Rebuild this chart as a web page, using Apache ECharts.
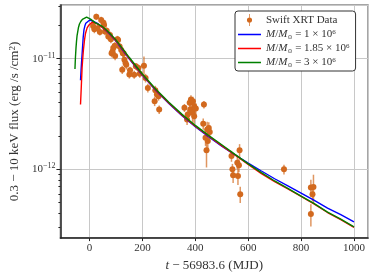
<!DOCTYPE html>
<html><head><meta charset="utf-8">
<script src="https://cdn.jsdelivr.net/npm/echarts@6/dist/echarts.min.js"></script>
<style>html,body{margin:0;padding:0;background:#fff}#c{width:374px;height:277px}</style>
</head><body><div id="c"></div>
<script>
// Swift XRT observations: days since MJD 56983.6, flux (erg/s/cm^2), 1-sigma error
const obsT = [13.5,18.4,25.7,30.6,39.2,44.1,52.7,55.1,58.8,65,71.1,77.2,80.9,83.5,87,89.7,95.6,96.8,105.4,108,114,120,123.8,126,128.7,132,136,139,150.7,153.2,169,175.2,185,190,205.9,212,220.6,246.3,248.8,254.9,261,263.5,359,368.9,371.3,378.7,381,383.6,389.7,391,395.8,395.8,402,430,432.6,438.7,442.4,444.9,447.3,451,454.7,536.8,540.4,543,558.8,561.3,565,567.4,569.9,735.3,837,837,843.1,846.8];
const obsFlux = [1.98e-11,1.85e-11,2.40e-11,1.89e-11,1.74e-11,2.24e-11,2.12e-11,2.02e-11,1.76e-11,1.79e-11,1.59e-11,1.64e-11,1.50e-11,1.12e-11,1.16e-11,1.25e-11,1.31e-11,1.06e-11,1.50e-11,1.48e-11,1.29e-11,1.20e-11,7.96e-12,1.12e-11,1.12e-11,9.8e-12,9.14e-12,8.8e-12,7.22e-12,7.85e-12,7.18e-12,8.53e-12,8.24e-12,7.33e-12,8.65e-12,6.70e-12,5.45e-12,4.13e-12,5.19e-12,4.74e-12,4.58e-12,3.47e-12,3.60e-12,2.82e-12,3.13e-12,3.99e-12,3.47e-12,4.28e-12,3.24e-12,4.13e-12,3.72e-12,3.02e-12,3.55e-12,2.58e-12,3.85e-12,1.93e-12,1.49e-12,2.29e-12,1.80e-12,2.37e-12,2.18e-12,1.32e-12,1.00e-12,8.83e-13,1.15e-12,8.7e-13,1.09e-12,1.49e-12,5.96e-13,1.00e-12,6.84e-13,3.94e-13,5.96e-13,6.94e-13];
const obsErr = [1.5e-12,1.5e-12,1.5e-12,1.5e-12,1.2e-12,1.5e-12,1.5e-12,1.5e-12,1.3e-12,1.3e-12,1.2e-12,1.2e-12,1.2e-12,9e-13,1.0e-12,1.0e-12,1.0e-12,9e-13,1.1e-12,1.1e-12,1.0e-12,1.0e-12,7e-13,9e-13,9e-13,8e-13,8e-13,8e-13,6e-13,6e-13,6e-13,6e-13,6e-13,6e-13,1.8e-12,6e-13,5e-13,4e-13,5e-13,4e-13,4e-13,3e-13,3e-13,3e-13,3e-13,4e-13,4e-13,4e-13,6e-13,4e-13,5e-13,5e-13,4e-13,3e-13,3e-13,3e-13,4.5e-13,4e-13,3e-13,3e-13,3e-13,1.5e-13,1.2e-13,1.3e-13,1.5e-13,1.5e-13,1.5e-13,2e-13,1e-13,1e-13,1.2e-13,9e-14,8e-14,2e-13];

// Model light curves
const blueT = [-34,-32,-30,-27,-24,-21,-17,-14,-8,1,8,16,30,50,75,100,125,150,175,200,250,300,350,400,450,500,550,600,650,700,750,800,850,900,950,1000];
const blueFlux = [6.38e-12,7.8e-12,9.33e-12,1.20e-11,1.55e-11,1.82e-11,2.0e-11,2.09e-11,2.17e-11,2.24e-11,2.22e-11,2.17e-11,2.09e-11,1.905e-11,1.68e-11,1.445e-11,1.20e-11,1.0e-11,8.41e-12,7.08e-12,5.19e-12,3.94e-12,3.05e-12,2.43e-12,1.97e-12,1.62e-12,1.35e-12,1.14e-12,9.66e-13,8.22e-13,7.08e-13,6.10e-13,5.25e-13,4.47e-13,3.89e-13,3.35e-13];
const redT = [-34,-31,-28,-25,-23,-19,-15,-9,-2,4,10,22,30,50,75,100,125,150,175,200,250,300,350,400,450,500,550,600,650,700,750,800,850,900,950,1000];
const redFlux = [3.85e-12,5.62e-12,8.32e-12,1.05e-11,1.20e-11,1.47e-11,1.70e-11,1.90e-11,2.02e-11,2.10e-11,2.14e-11,2.10e-11,2.065e-11,1.91e-11,1.70e-11,1.46e-11,1.215e-11,1.01e-11,8.51e-12,7.16e-12,5.25e-12,3.98e-12,3.09e-12,2.455e-12,2.0e-12,1.64e-12,1.35e-12,1.11e-12,9.14e-13,7.74e-13,6.64e-13,5.69e-13,4.84e-13,4.07e-13,3.51e-13,2.985e-13];
const greenT = [-55,-54,-53,-51,-49,-47,-42,-38,-33,-27,-21,-11,4,22,30,50,75,100,125,150,175,200,250,300,350,400,450,500,550,600,650,700,750,800,850,900,950,1000];
const greenFlux = [8.07e-12,9.3e-12,1.047e-11,1.26e-11,1.45e-11,1.62e-11,1.905e-11,2.06e-11,2.17e-11,2.27e-11,2.33e-11,2.38e-11,2.28e-11,2.11e-11,2.065e-11,1.95e-11,1.72e-11,1.48e-11,1.235e-11,1.03e-11,8.65e-12,7.28e-12,5.33e-12,4.05e-12,3.14e-12,2.495e-12,2.03e-12,1.67e-12,1.365e-12,1.12e-12,9.33e-13,7.85e-13,6.73e-13,5.73e-13,4.90e-13,4.10e-13,3.55e-13,3.02e-13];

const legendLabels = {
  'Swift XRT Data': 'Swift XRT Data',
  'M1': '{i|M}/{i|M}{s|⊙} = 1 × 10{p|6}',
  'M185': '{i|M}/{i|M}{s|⊙} = 1.85 × 10{p|6}',
  'M3': '{i|M}/{i|M}{s|⊙} = 3 × 10{p|6}'
};
const minorTicks = [3e-13,4e-13,5e-13,6e-13,7e-13,8e-13,9e-13,2e-12,3e-12,4e-12,5e-12,6e-12,7e-12,8e-12,9e-12,2e-11,3e-11];

const FONT = 'Liberation Serif';
const DATA_C = '#d2691e';
const LINE_ICON = 'path://M0,0L30,0L30,2L0,2Z';

const chart = echarts.init(document.getElementById('c'), null, {renderer:'canvas'});
const zip = (a,b) => a.map((v,i)=>[v,b[i]]);

chart.setOption({
  animation: false,
  backgroundColor: '#fff',
  grid: {left:53, right:6, top:5, bottom:38, show:true, borderColor:'#888', borderWidth:1.5, backgroundColor:'transparent'},
  xAxis: {
    type:'value', min:-110, max:1053, splitNumber:5,
    axisLine:{show:true, onZero:false, lineStyle:{color:'#222', width:1.5}},
    axisTick:{show:true, length:3, lineStyle:{color:'#222'}},
    axisLabel:{showMinLabel:false, showMaxLabel:false, fontFamily:FONT, fontSize:11, color:'#333', margin:5,
      formatter: v => String(v)},
    splitLine:{show:true, lineStyle:{color:'#c8c8c8', width:1}},
    name:'{i|t} − 56983.6 (MJD)', nameLocation:'middle', nameGap:18,
    nameTextStyle:{fontFamily:FONT, fontSize:13, color:'#333', rich:{i:{fontFamily:FONT, fontSize:13, fontStyle:'italic', color:'#333'}}}
  },
  yAxis: [{
    type:'log', logBase:10, min:2.39e-13, max:3.06e-11,
    axisLine:{show:true, onZero:false, lineStyle:{color:'#222', width:1.5}},
    axisTick:{show:true, length:4, lineStyle:{color:'#222'}},
    axisLabel:{showMinLabel:false, showMaxLabel:false, fontFamily:FONT, fontSize:11, color:'#333', margin:5,
      formatter: v => { const l = Math.log10(v); const r = Math.round(l); return Math.abs(l-r) < 1e-6 ? '10{p|−'+(-r)+'}' : ''; },
      rich:{p:{fontFamily:FONT, fontSize:8, color:'#333', verticalAlign:'top', padding:[0,0,6,0]}}},
    splitLine:{show:true, lineStyle:{color:'#c8c8c8', width:1}},
    name:'{n|0.3 − 10 keV flux (erg /s /cm}{p|2}{n|)}', nameLocation:'middle', nameRotate:90, nameGap:33,
    nameTextStyle:{fontFamily:FONT, fontSize:13, color:'#333', rich:{
      n:{fontFamily:FONT, fontSize:13, color:'#333'},
      p:{fontFamily:FONT, fontSize:9, color:'#333', verticalAlign:'top'}}}
  },{
    type:'log', logBase:10, min:2.39e-13, max:3.06e-11, position:'left',
    axisLine:{show:false, onZero:false}, axisLabel:{show:false}, splitLine:{show:false},
    axisTick:{show:true, length:2, customValues:minorTicks, lineStyle:{color:'#222'}}
  }],
  legend: {
    orient:'vertical', left:235, top:11, width:128,
    backgroundColor:'#fff', borderColor:'#333', borderWidth:1, borderRadius:3,
    padding:[3,6,3,3], itemWidth:23, itemHeight:12, itemGap:3,
    data:[{name:'Swift XRT Data', icon:'path://M2.6,0L3.4,0L3.4,14L2.6,14Z M6,7A3,3,0,1,1,0,7A3,3,0,1,1,6,7Z'},
          {name:'M1', icon:LINE_ICON},{name:'M185', icon:LINE_ICON},{name:'M3', icon:LINE_ICON}],
    formatter: n => legendLabels[n],
    textStyle:{fontFamily:FONT, fontSize:11, color:'#333', rich:{
      i:{fontFamily:FONT, fontSize:11, fontStyle:'italic', color:'#333'},
      s:{fontFamily:'DejaVu Sans', fontSize:6, color:'#333', verticalAlign:'bottom'},
      p:{fontFamily:FONT, fontSize:7, color:'#333', verticalAlign:'top'}}}
  },
  series: [
    {
      type:'custom', name:'err', silent:true,
      data: obsT.map((t,i)=>[t, obsFlux[i]-obsErr[i], obsFlux[i]+obsErr[i]]),
      encode:{x:0, y:[1,2]},
      renderItem:(params, api) => {
        const a = api.coord([api.value(0), api.value(1)]);
        const b = api.coord([api.value(0), api.value(2)]);
        return {type:'line', shape:{x1:a[0], y1:a[1], x2:b[0], y2:b[1]}, style:{stroke:'rgba(210,105,30,0.7)', lineWidth:1.5}};
      },
      z:1
    },
    {type:'scatter', name:'Swift XRT Data', data: zip(obsT, obsFlux), symbol:'circle', symbolSize:6,
     itemStyle:{color:DATA_C, opacity:1}, z:2},
    {type:'line', name:'M1', data: zip(blueT, blueFlux), showSymbol:false, symbol:'none', smooth:false,
     lineStyle:{color:'#0000ff', width:1.4}, itemStyle:{color:'#0000ff'}, z:3},
    {type:'line', name:'M185', data: zip(redT, redFlux), showSymbol:false, symbol:'none', smooth:false,
     lineStyle:{color:'#ff0000', width:1.4}, itemStyle:{color:'#ff0000'}, z:4},
    {type:'line', name:'M3', data: zip(greenT, greenFlux), showSymbol:false, symbol:'none', smooth:false,
     lineStyle:{color:'#008000', width:1.4}, itemStyle:{color:'#008000'}, z:5}
  ]
});
</script></body></html>
